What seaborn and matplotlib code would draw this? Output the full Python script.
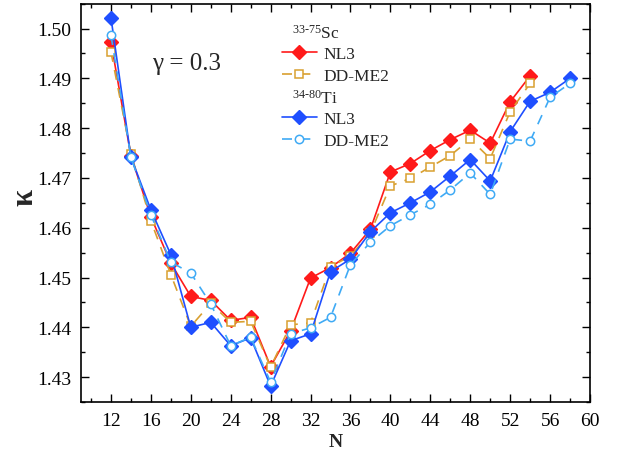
import matplotlib
matplotlib.use("Agg")
import matplotlib.pyplot as plt
import seaborn as sns
import numpy as np
from matplotlib.lines import Line2D
from matplotlib.ticker import MultipleLocator

# ---------------- data ----------------
N_sc = [12, 14, 16, 18, 20, 22, 24, 26, 28, 30, 32, 34, 36, 38, 40, 42, 44, 46, 48, 50, 52, 54]
sc_nl3 = [1.4973, 1.4745, 1.4622, 1.4529, 1.4462, 1.4454, 1.4414, 1.4420, 1.4321, 1.4393, 1.4499,
          1.4520, 1.4549, 1.4597, 1.4712, 1.4729, 1.4755, 1.4777, 1.4796, 1.4770, 1.4853, 1.4905]
sc_ddme2 = [1.4953, 1.4749, 1.4614, 1.4506, 1.4402, 1.4448, 1.4410, 1.4412, 1.4320, 1.4405, 1.4409,
            1.4522, 1.4543, 1.4590, 1.4684, 1.4699, 1.4722, 1.4745, 1.4778, 1.4739, 1.4833, 1.4890]

N_ti = [12, 14, 16, 18, 20, 22, 24, 26, 28, 30, 32, 34, 36, 38, 40, 42, 44, 46, 48, 50, 52, 54, 56, 58]
ti_nl3 = [1.5022, 1.4742, 1.4636, 1.4546, 1.4400, 1.4410, 1.4363, 1.4379, 1.4282, 1.4373, 1.4387, 1.4512,
          1.4537, 1.4592, 1.4630, 1.4650, 1.4672, 1.4704, 1.4737, 1.4694, 1.4793, 1.4854, 1.4872, 1.4900]
ti_ddme2 = [1.4987, 1.4742, 1.4626, 1.4531, 1.4509, 1.4447, 1.4363, 1.4380, 1.4290, 1.4387, 1.4399, 1.4420,
            1.4526, 1.4571, 1.4604, 1.4626, 1.4647, 1.4676, 1.4710, 1.4667, 1.4778, 1.4774, 1.4862, 1.4890]

x_ticks = [12, 16, 20, 24, 28, 32, 36, 40, 44, 48, 52, 56, 60]
y_ticks = [1.43, 1.44, 1.45, 1.46, 1.47, 1.48, 1.49, 1.50]
sc_header = r"$^{\text{33-75}}$Sc"
ti_header = r"$^{\text{34-80}}$Ti"
series_labels = ["NL3", "DD-ME2", "NL3", "DD-ME2"]

# ---------------- style ----------------
sns.set_theme(style="ticks")
plt.rcParams["font.family"] = ["Liberation Serif", "DejaVu Serif"]
plt.rcParams["mathtext.fontset"] = "custom"
plt.rcParams["mathtext.rm"] = "Liberation Serif"
plt.rcParams["mathtext.it"] = "Liberation Serif:italic"
plt.rcParams["mathtext.bf"] = "Liberation Serif:bold"

RED = "#FF1A1A"
ORANGE = "#D9A030"
BLUE = "#1F4FFF"
LBLUE = "#3FAAF5"

fig = plt.figure(figsize=(6.23, 4.56), dpi=100)
ax = fig.add_axes([81 / 623, 53 / 456, 509 / 623, 398.3 / 456])

dash = (0, (6, 5))
sns.lineplot(x=N_sc, y=sc_nl3, ax=ax, color=RED, linewidth=1.2, linestyle="-",
             marker="D", markersize=7, markerfacecolor=RED, markeredgecolor=RED, markeredgewidth=1)
sns.lineplot(x=N_sc, y=sc_ddme2, ax=ax, color=ORANGE, linewidth=1.2, linestyle=dash,
             marker="s", markersize=5.5, markerfacecolor="white", markeredgecolor=ORANGE, markeredgewidth=1.1)
sns.lineplot(x=N_ti, y=ti_nl3, ax=ax, color=BLUE, linewidth=1.2, linestyle="-",
             marker="D", markersize=7, markerfacecolor=BLUE, markeredgecolor=BLUE, markeredgewidth=1)
sns.lineplot(x=N_ti, y=ti_ddme2, ax=ax, color=LBLUE, linewidth=1.2, linestyle=dash,
             marker="o", markersize=6, markerfacecolor="white", markeredgecolor=LBLUE, markeredgewidth=1.1)

ax.set_xlim(9, 60)
ax.set_ylim(1.425, 1.505)
ax.set_xticks(x_ticks)
ax.set_yticks(y_ticks)
ax.set_yticklabels([f"{v:.2f}" for v in y_ticks])
ax.xaxis.set_minor_locator(MultipleLocator(2))
ax.yaxis.set_minor_locator(MultipleLocator(0.005))
ax.tick_params(which="both", direction="in", top=True, right=True, width=1.0, colors="black",
               labelsize=14, pad=7)
ax.tick_params(which="major", length=6)
ax.tick_params(which="minor", length=3)
for s in ax.spines.values():
    s.set_visible(True)
    s.set_linewidth(1.2)
    s.set_color("black")

ax.set_xlabel("N", fontsize=14, fontweight="bold", labelpad=3)
ax.set_ylabel("κ", fontsize=22, fontweight="bold", va="center")
ax.yaxis.set_label_coords(-0.110, 0.517)

ax.text(0.14, 0.85, "γ = 0.3", transform=ax.transAxes, fontsize=18, ha="left", va="center")

# legend
blank = Line2D([], [], linestyle="none", marker=None)
h_red = Line2D([], [], color=RED, lw=1.2, marker="D", ms=7, mfc=RED, mec=RED)
h_or = Line2D([], [], color=ORANGE, lw=1.2, linestyle=dash, marker="s", ms=5.5, mfc="white", mec=ORANGE, mew=1.1)
h_bl = Line2D([], [], color=BLUE, lw=1.2, marker="D", ms=7, mfc=BLUE, mec=BLUE)
h_lb = Line2D([], [], color=LBLUE, lw=1.2, linestyle=dash, marker="o", ms=6, mfc="white", mec=LBLUE, mew=1.1)
leg = ax.legend([blank, h_red, h_or, blank, h_bl, h_lb],
                [" ", series_labels[0], series_labels[1], " ", series_labels[2], series_labels[3]],
                loc="upper left", bbox_to_anchor=(0.395, 0.947), frameon=False, fontsize=12.5,
                handlelength=2.0, handletextpad=0.4, labelspacing=0.31, borderpad=0, borderaxespad=0)

fig.canvas.draw()
texts = leg.get_texts()
inv = ax.transAxes.inverted()
hx = leg.get_window_extent().x0
for idx, lab in [(0, sc_header), (3, ti_header)]:
    bb = texts[idx].get_window_extent()
    yc = (bb.y0 + bb.y1) / 2
    xa, ya = inv.transform((hx + 10, yc))
    ax.text(xa, ya, lab, transform=ax.transAxes, fontsize=12.5, ha="left", va="center")

fig.savefig("out.png", dpi=100)
